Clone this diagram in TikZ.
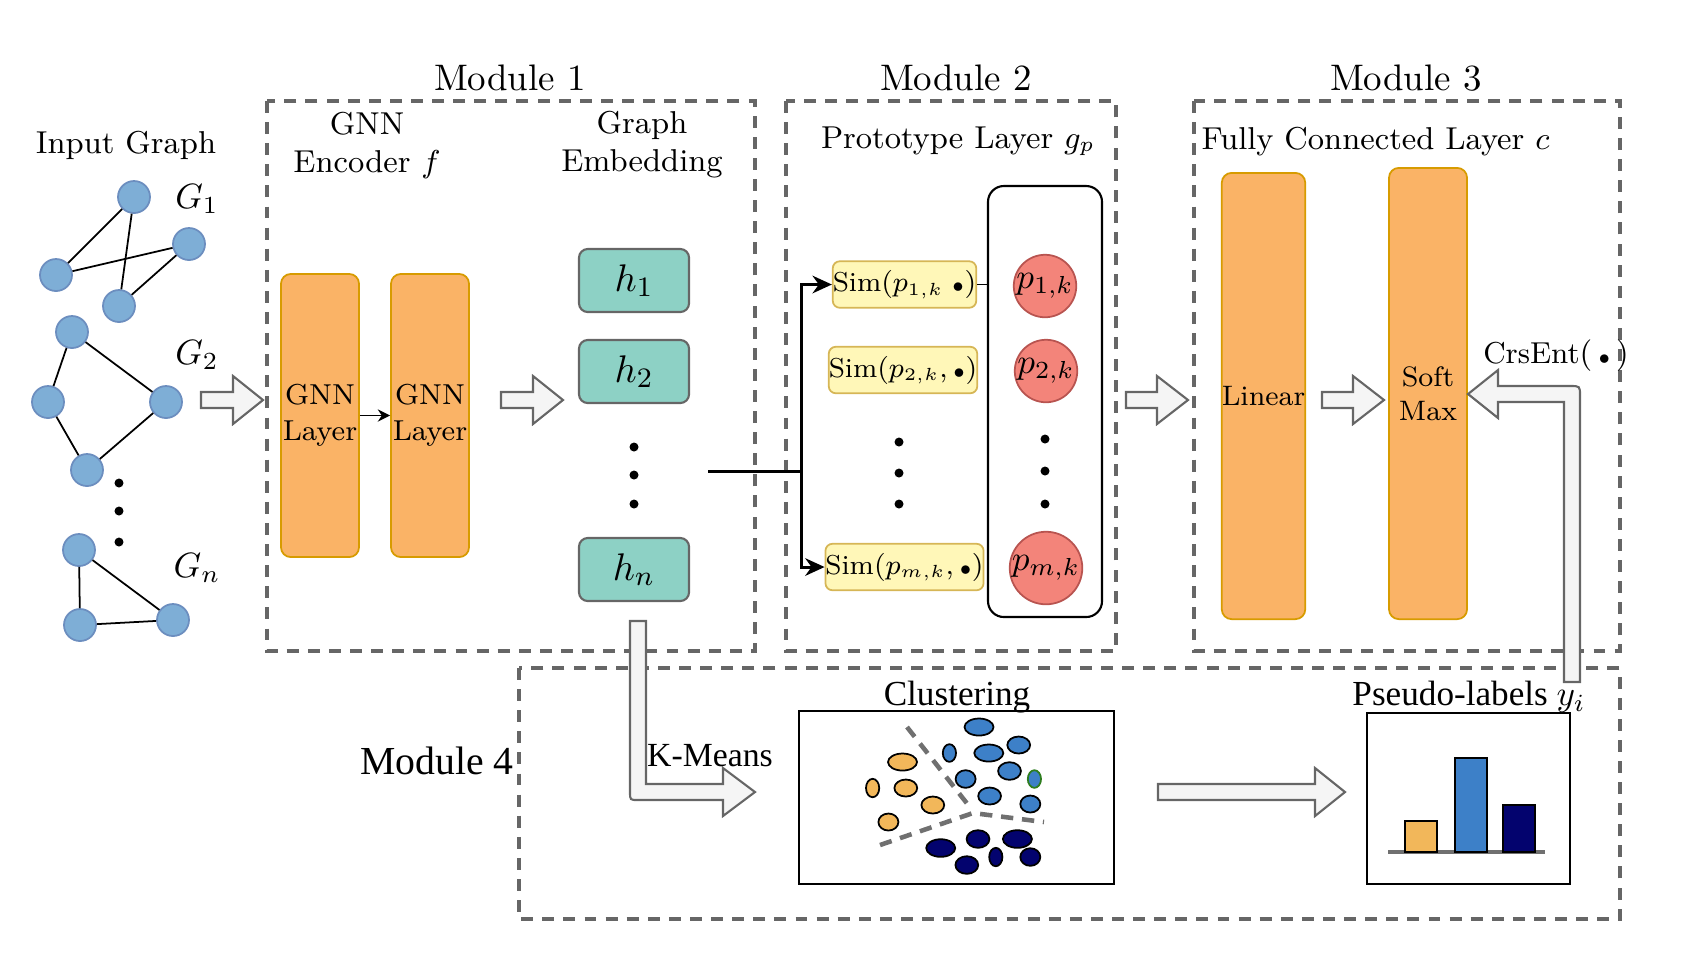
\documentclass[tikz,border=0pt]{standalone}
\usepackage{amsmath,amssymb}
\usepackage{fontspec}
\newfontfamily\timesf{Liberation Serif}
\usetikzlibrary{arrows.meta}
\definecolor{gnode}{HTML}{7EAED6}
\definecolor{gnodeb}{HTML}{6C8EBF}
\definecolor{orangef}{HTML}{FAB366}
\definecolor{oranged}{HTML}{D79B00}
\definecolor{tealf}{HTML}{8DD1C5}
\definecolor{grayb}{HTML}{666666}
\definecolor{simf}{HTML}{FFF7B8}
\definecolor{simd}{HTML}{D6B656}
\definecolor{protof}{HTML}{F3847A}
\definecolor{protod}{HTML}{B85450}
\definecolor{arrowf}{HTML}{F5F5F5}
\definecolor{clor}{HTML}{F2B75A}
\definecolor{clbl}{HTML}{3D80C8}
\definecolor{clnv}{HTML}{03036E}
\definecolor{clgr}{HTML}{2E7D1E}
\definecolor{sepgray}{HTML}{707070}
\newcommand{\sdot}{{\scriptscriptstyle\bullet}}
\tikzset{
  module/.style={draw=grayb, line width=1.15pt, dash pattern=on 3.4pt off 2.6pt},
  gnn/.style={draw=oranged, fill=orangef, rounded corners=2.8pt, line width=0.5pt, inner sep=0pt, align=center, font=\fontsize{8.2}{10.2}\selectfont},
  emb/.style={draw=grayb, fill=tealf, rounded corners=2.5pt, minimum width=11mm, minimum height=6.3mm, inner sep=0pt, font=\fontsize{11}{13}\selectfont, line width=0.6pt},
  simbox/.style={draw=simd, fill=simf, rounded corners=2pt, minimum height=4.65mm, inner sep=0pt, font=\fontsize{7.8}{10}\selectfont, line width=0.5pt},
  proto/.style={circle, draw=protod, fill=protof, minimum size=6mm, inner sep=0pt, font=\fontsize{10}{12}\selectfont, line width=0.5pt},
  gv/.style={circle, draw=gnodeb, fill=gnode, minimum size=3.2mm, inner sep=0pt, line width=0.5pt},
  gedge/.style={line width=0.5pt},
  bigarrow/.style={draw=grayb, fill=arrowf, line width=0.6pt, line join=miter},
  dotn/.style={circle, fill=black, minimum size=0.9mm, inner sep=0pt},
  lbl/.style={font=\fontsize{9}{10.8}\selectfont, align=center, inner sep=0pt},
  modlbl/.style={font=\fontsize{10.5}{12}\selectfont, inner sep=0pt},
  tlbl/.style={font=\timesf\fontsize{10}{12}\selectfont, inner sep=0pt},
  conn/.style={line width=0.85pt},
  sep/.style={draw=sepgray, line width=1.3pt, dash pattern=on 3.5pt off 2.5pt},
  plainbox/.style={draw=black, line width=0.5pt},
}
\newcommand{\harrow}[4]{%
  \draw[bigarrow] (#1,#4-8) -- (#2,#4-8) -- (#2,#4-24) -- (#3,#4) -- (#2,#4+24) -- (#2,#4+8) -- (#1,#4+8) -- cycle;}
\newcommand{\clel}[5]{%
  \draw[fill=#1, draw=#2, line width=0.5pt] (#3) ellipse [x radius=#4mm, y radius=#5mm];}
\begin{document}
\begin{tikzpicture}[x=0.01cm,y=-0.01cm]
\useasboundingbox (0,0) rectangle (1698,956);

% ---------- module boxes ----------
\draw[module] (267,101) rectangle (755,651);
\draw[module] (786,101) rectangle (1116,651);
\draw[module] (1194,101) rectangle (1620,651);
\draw[module] (519,668) rectangle (1620,919);

\node[modlbl] (m1) at (510,78) {Module 1};
\node[modlbl] (m2) at (956,78) {Module 2};
\node[modlbl] (m3) at (1406,78) {Module 3};
\node[inner sep=0pt, font=\timesf\fontsize{11.3}{13}\selectfont] (m4) at (437,761) {Module 4};

% ---------- input graphs ----------
\node[lbl] (ig) at (126,145) {Input Graph};
\node[gv] (a1) at (134,197) {};
\node[gv] (a2) at (189,244) {};
\node[gv] (a3) at (56,275) {};
\node[gv] (a4) at (119,306) {};
\draw[gedge] (a1) -- (a3); \draw[gedge] (a1) -- (a4);
\draw[gedge] (a3) -- (a2); \draw[gedge] (a4) -- (a2);
\node[gv] (b1) at (72,332) {};
\node[gv] (b2) at (48,402) {};
\node[gv] (b3) at (166,402) {};
\node[gv] (b4) at (87,470) {};
\draw[gedge] (b1) -- (b2); \draw[gedge] (b1) -- (b3);
\draw[gedge] (b2) -- (b4); \draw[gedge] (b4) -- (b3);
\node[gv] (c1) at (79,550) {};
\node[gv] (c2) at (80,625) {};
\node[gv] (c3) at (173,620) {};
\draw[gedge] (c1) -- (c2); \draw[gedge] (c1) -- (c3); \draw[gedge] (c2) -- (c3);
\node[inner sep=0pt, font=\fontsize{9.6}{11}\selectfont] (g1) at (197,199) {$G_1$};
\node[inner sep=0pt, font=\fontsize{9.6}{11}\selectfont] (g2) at (197,355) {$G_2$};
\node[inner sep=0pt, font=\fontsize{9.6}{11}\selectfont] (gn) at (197,568) {$G_n$};
\node[dotn] (d1) at (119,483) {};
\node[dotn] (d2) at (119,511) {};
\node[dotn] (d3) at (119,542) {};

\harrow{201}{233}{263}{400}

% ---------- module 1 ----------
\node[lbl] (enc) at (367,145) {GNN\\Encoder $f$};
\node[lbl] (embl) at (642,145) {Graph\\Embedding};
\node[gnn, minimum width=7.8mm, minimum height=28.3mm] (l1) at (320,415.5) {GNN\\Layer};
\node[gnn, minimum width=7.8mm, minimum height=28.3mm] (l2) at (430,415.5) {GNN\\Layer};
\draw[line width=0.5pt, -{Stealth[length=3.5pt,width=3.5pt]}] (l1.east) -- (l2.west);
\harrow{501}{533}{563}{400}
\node[emb] (h1) at (634,280.5) {$h_1$};
\node[emb] (h2) at (634,371.5) {$h_2$};
\node[emb] (hn) at (634,569.5) {$h_n$};
\node[dotn] (e1) at (634,447) {};
\node[dotn] (e2) at (634,475) {};
\node[dotn] (e3) at (634,504) {};

% ---------- module 2 ----------
\node[lbl] (proto) at (958,141) {Prototype Layer $g_p$};
\draw[line width=0.6pt, rounded corners=4.5pt] (988,186) rectangle (1102,617);
\coordinate (prw) at (988,400);
\node[simbox, minimum width=14.1mm] (sim1) at (904.5,284.5) {Sim$(p_{1,k}\;\sdot)$};
\node[simbox, minimum width=13.8mm] (sim2) at (903,370) {Sim$(p_{2,k},\sdot)$};
\node[simbox, minimum width=14.1mm] (simm) at (904.5,567) {Sim$(p_{m,k},\sdot)$};
\node[proto] (p1) at (1045,286) {$p_{1,k}$};
\node[proto] (p2) at (1046,371) {$p_{2,k}$};
\node[proto] (pm) at (1046,568) {$p_{m,k}$};
\node[dotn] (s1) at (899,442) {};
\node[dotn] (s2) at (899,473) {};
\node[dotn] (s3) at (899,504) {};
\node[dotn] (q1) at (1045,439) {};
\node[dotn] (q2) at (1045,471) {};
\node[dotn] (q3) at (1045,504) {};
\coordinate (jstart) at (708,471);
\coordinate (jn) at (801,471);
\draw[conn] (jstart) -- (jn);
\draw[conn, -{Stealth[length=5.5pt,width=5pt]}] (jn) |- (sim1.west);
\draw[conn, -{Stealth[length=5.5pt,width=5pt]}] (jn) |- (simm.west);
\draw[line width=0.5pt] (sim1.east) -- (sim1.east -| prw);

\harrow{1126}{1157}{1188}{400}

% ---------- module 3 ----------
\node[lbl, anchor=west] (fcl) at (1201,142) {Fully Connected Layer $c$};
\node[gnn, minimum width=7.9mm, minimum height=44.6mm, font=\fontsize{8}{9.6}\selectfont] (lin) at (1263.5,396) {Linear};
\node[gnn, minimum width=7.8mm, minimum height=45.1mm, font=\fontsize{8}{9.6}\selectfont] (smx) at (1428,393.5) {Soft\\Max};
\harrow{1322}{1353}{1384}{400}
\node[inner sep=0pt, font=\fontsize{8.6}{10}\selectfont] (ce) at (1556,356) {CrsEnt$(\,\sdot\,)$};
\draw[bigarrow] (1564,682) -- (1580,682) -- (1580,396) .. controls (1580,386) .. (1570,386)
  -- (1498,386) -- (1498,370) -- (1468,394) -- (1498,418) -- (1498,402) -- (1564,402) -- cycle;

% ---------- module 4 ----------
\draw[bigarrow] (630,621) -- (646,621) -- (646,784) -- (723,784) -- (723,768) -- (755,792)
  -- (723,816) -- (723,800) -- (638,800) .. controls (630,800) .. (630,792) -- cycle;
\node[tlbl, font=\timesf\fontsize{9.6}{11}\selectfont] (km) at (710,756) {K-Means};

\node[tlbl] (cl) at (957,697) {Clustering};
\draw[plainbox] (799,711) rectangle (1114,884);
% orange cluster
\clel{clor}{black}{902.5,762}{1.45}{0.85}
\clel{clor}{black}{872.6,788}{0.66}{0.92}
\clel{clor}{black}{905.8,788}{1.14}{0.85}
\clel{clor}{black}{932.8,805}{1.14}{0.85}
\clel{clor}{black}{888.4,822}{1.0}{0.85}
% blue cluster
\clel{clbl}{black}{979,727}{1.45}{0.85}
\clel{clbl}{black}{1018.7,745}{1.14}{0.85}
\clel{clbl}{black}{949.4,753}{0.66}{0.88}
\clel{clbl}{black}{988.8,753}{1.45}{0.85}
\clel{clbl}{black}{1009.5,771}{1.14}{0.88}
\clel{clbl}{black}{965.6,779}{1.0}{0.88}
\clel{clbl}{clgr}{1034.4,779}{0.66}{0.88}
\clel{clbl}{black}{989.6,796}{1.14}{0.85}
\clel{clbl}{black}{1030.3,804}{1.0}{0.85}
% navy cluster
\clel{clnv}{black}{940.7,848}{1.45}{0.88}
\clel{clnv}{black}{978,839}{1.14}{0.88}
\clel{clnv}{black}{1017.4,839}{1.45}{0.88}
\clel{clnv}{black}{966.8,865}{1.14}{0.88}
\clel{clnv}{black}{995.8,857}{0.66}{0.92}
\clel{clnv}{black}{1030.3,857}{1.0}{0.88}
% separators
\draw[sep] (907,727) -- (969,806);
\draw[sep] (880,845) -- (973,813) -- (1044,822);

\harrow{1158}{1315}{1345}{792}

\node[tlbl] (pl) at (1469,697) {Pseudo-labels $y_i$};
\draw[plainbox] (1367,713) rectangle (1570,884);
\draw[draw=sepgray, line width=1.1pt] (1388,852) -- (1545,852);
\draw[fill=clor, line width=0.6pt] (1405,821) rectangle (1437,852);
\draw[fill=clbl, line width=0.6pt] (1455,758) rectangle (1487,852);
\draw[fill=clnv, line width=0.6pt] (1503,805) rectangle (1535,852);
\end{tikzpicture}
\end{document}
